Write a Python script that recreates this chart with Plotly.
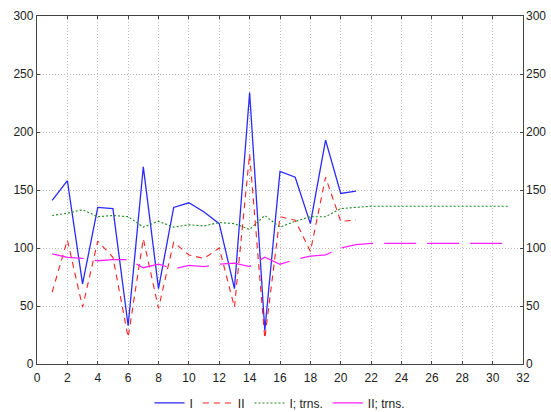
import plotly.graph_objects as go

x_obs = list(range(1, 22))
x_all = list(range(1, 32))

series_I = [141, 158, 69, 135, 134, 33, 170, 65, 135, 139, 131, 121, 65, 234, 29, 166, 161, 121, 193, 147, 149]
series_II = [62, 107, 49, 106, 92, 23, 108, 48, 105, 94, 91, 100, 49, 181, 22, 127, 124, 97, 161, 123, 124]
trend_I = [128, 130, 133, 127, 128, 127, 118, 123, 118, 120, 119, 122, 121, 116, 128, 118, 123, 127, 127, 134, 135,
           136, 136, 136, 136, 136, 136, 136, 136, 136, 136]
trend_II = [95, 92, 91, 89, 90, 90, 83, 86, 82, 85, 84, 86, 87, 84, 92, 86, 90, 93, 94, 100, 103,
            104, 104, 104, 104, 104, 104, 104, 104, 104, 104]

x_ticks = list(range(0, 33, 2))
y_ticks = list(range(0, 301, 50))

fig = go.Figure()
fig.add_trace(go.Scatter(x=x_obs, y=series_I, mode="lines", name="I",
                         line=dict(color="#2a2aff", width=1.3)))
fig.add_trace(go.Scatter(x=x_obs, y=series_II, mode="lines", name="II",
                         line=dict(color="#ff2020", width=1.1, dash="6px,5px")))
fig.add_trace(go.Scatter(x=x_all, y=trend_I, mode="lines", name="I; trns.",
                         line=dict(color="#1a8a1a", width=1.1, dash="2px,2px")))
fig.add_trace(go.Scatter(x=x_all, y=trend_II, mode="lines", name="II; trns.",
                         line=dict(color="#ff20ff", width=1.3, dash="32px,11px")))
fig.add_trace(go.Scatter(x=[None], y=[None], yaxis="y2", showlegend=False, hoverinfo="skip"))

axis_font = dict(family="Liberation Sans, Arial, sans-serif", size=12, color="#222")
grid_col = "#bdbdbd"

fig.update_layout(
    width=551, height=412,
    margin=dict(l=37, r=28, t=16, b=48, autoexpand=False),
    paper_bgcolor="white", plot_bgcolor="white",
    showlegend=True,
    legend=dict(orientation="h", x=0.5, xanchor="center", yref="container", y=0.022, yanchor="middle",
                font=dict(family="Liberation Sans, Arial, sans-serif", size=12, color="#222"),
                traceorder="normal", itemwidth=30),
    xaxis=dict(range=[0, 32], tickvals=x_ticks, ticktext=[str(v) for v in x_ticks],
               showgrid=True, gridcolor=grid_col, griddash="1px,2px", gridwidth=1,
               showline=True, linecolor="#444", linewidth=1.3, mirror="ticks",
               ticks="inside", ticklen=3, tickcolor="#444", tickfont=axis_font, zeroline=False,
               automargin=False, ticklabelstandoff=2),
    yaxis=dict(range=[0, 300], tickvals=y_ticks, ticktext=[str(v) for v in y_ticks],
               showgrid=True, gridcolor=grid_col, griddash="1px,2px", gridwidth=1,
               showline=True, linecolor="#444", linewidth=1.3, mirror=True,
               ticks="inside", ticklen=3, tickcolor="#444", tickfont=axis_font, zeroline=False,
               automargin=False),
    yaxis2=dict(range=[0, 300], tickvals=y_ticks, ticktext=[str(v) for v in y_ticks],
                overlaying="y", side="right", showgrid=False, showline=False,
                ticks="inside", ticklen=3, tickcolor="#444", tickfont=axis_font, zeroline=False,
                automargin=False, ticklabelstandoff=2),
)

fig.write_html("out.html",
               config={"displayModeBar": False},
               post_script="document.body.style.margin='0';document.body.style.padding='0';"
                           "document.documentElement.style.overflow='hidden';")
